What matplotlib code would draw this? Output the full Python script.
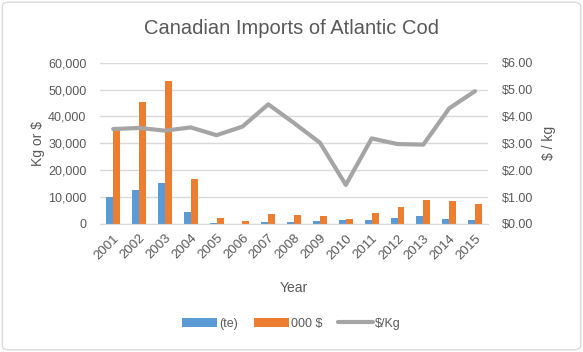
import matplotlib.pyplot as plt
import numpy as np
from matplotlib.patches import FancyBboxPatch
from matplotlib.ticker import FuncFormatter

years = [str(y) for y in range(2001, 2016)]
tonnes = [10000, 12600, 15100, 4500, 400, 100, 700, 800, 900, 1400, 1300, 2000, 2800, 1900, 1400]
thousand_dollars = [35200, 45200, 53300, 16600, 2000, 1000, 3500, 3200, 2900, 1900, 4200, 6100, 8700, 8400, 7500]
price_per_kg = [3.53, 3.57, 3.47, 3.59, 3.30, 3.62, 4.45, 3.75, 3.02, 1.45, 3.18, 2.97, 2.95, 4.30, 4.94]

text_col = "#595959"
grid_col = "#D9D9D9"
plt.rcParams["font.family"] = ["Liberation Sans", "DejaVu Sans"]

fig = plt.figure(figsize=(5.83, 3.52), dpi=100)
border = FancyBboxPatch((0.004, 0.006), 0.992, 0.988, boxstyle="round,pad=0,rounding_size=0.012",
                        transform=fig.transFigure, fc="white", ec="#D9D9D9", lw=1, zorder=-10)
fig.patches.append(border)
ax = fig.add_axes([0.172, 0.364, 0.665, 0.458])
ax2 = ax.twinx()

x = np.arange(len(years))
w = 0.27
b1 = ax.bar(x - w / 2, tonnes, w, color="#5B9BD5", label="(te)")
b2 = ax.bar(x + w / 2, thousand_dollars, w, color="#ED7D31", label="000 $")
l1, = ax2.plot(x, price_per_kg, color="#A5A5A5", lw=3, label="$/Kg", solid_capstyle="round")

ax.set_xlim(-0.5, len(years) - 0.5)
ax.set_ylim(0, 60000)
ax2.set_ylim(0, 6)
ax.set_yticks(range(0, 60001, 10000))
ax2.set_yticks(range(0, 7))
ax.yaxis.set_major_formatter(FuncFormatter(lambda v, p: f"{int(v):,}"))
ax2.yaxis.set_major_formatter(FuncFormatter(lambda v, p: f"${v:.2f}"))
ax.grid(axis="y", color=grid_col, lw=1)
ax.set_axisbelow(True)

for a in (ax, ax2):
    for s in a.spines.values():
        s.set_visible(False)
    a.tick_params(length=0, colors=text_col, labelsize=9)
    a.patch.set_visible(False)
ax.spines["bottom"].set_visible(True)
ax.spines["bottom"].set_color(grid_col)

ax.set_xticks(x)
ax.set_xticklabels(years, rotation=45, ha="right", rotation_mode="anchor")
ax.tick_params(axis="x", pad=6, labelsize=9.5)
ax.tick_params(axis="y", pad=10)
ax2.tick_params(axis="y", pad=10)

ax.set_xlabel("Year", color=text_col, fontsize=10, labelpad=14)
ax.set_ylabel("Kg or $", color=text_col, fontsize=10, labelpad=2)
ax2.set_ylabel("$ / kg", color=text_col, fontsize=10, rotation=90, labelpad=6)

fig.text(0.5, 0.92, "Canadian Imports of Atlantic Cod", ha="center", va="center",
         fontsize=14.5, color=text_col)
fig.legend(handles=[b1, b2, l1], loc="center", bbox_to_anchor=(0.5, 0.08), ncol=3,
           frameon=False, fontsize=9, labelcolor=text_col, handlelength=2.8,
           handletextpad=0.2, columnspacing=1.2)

fig.savefig("out.png", dpi=100)
